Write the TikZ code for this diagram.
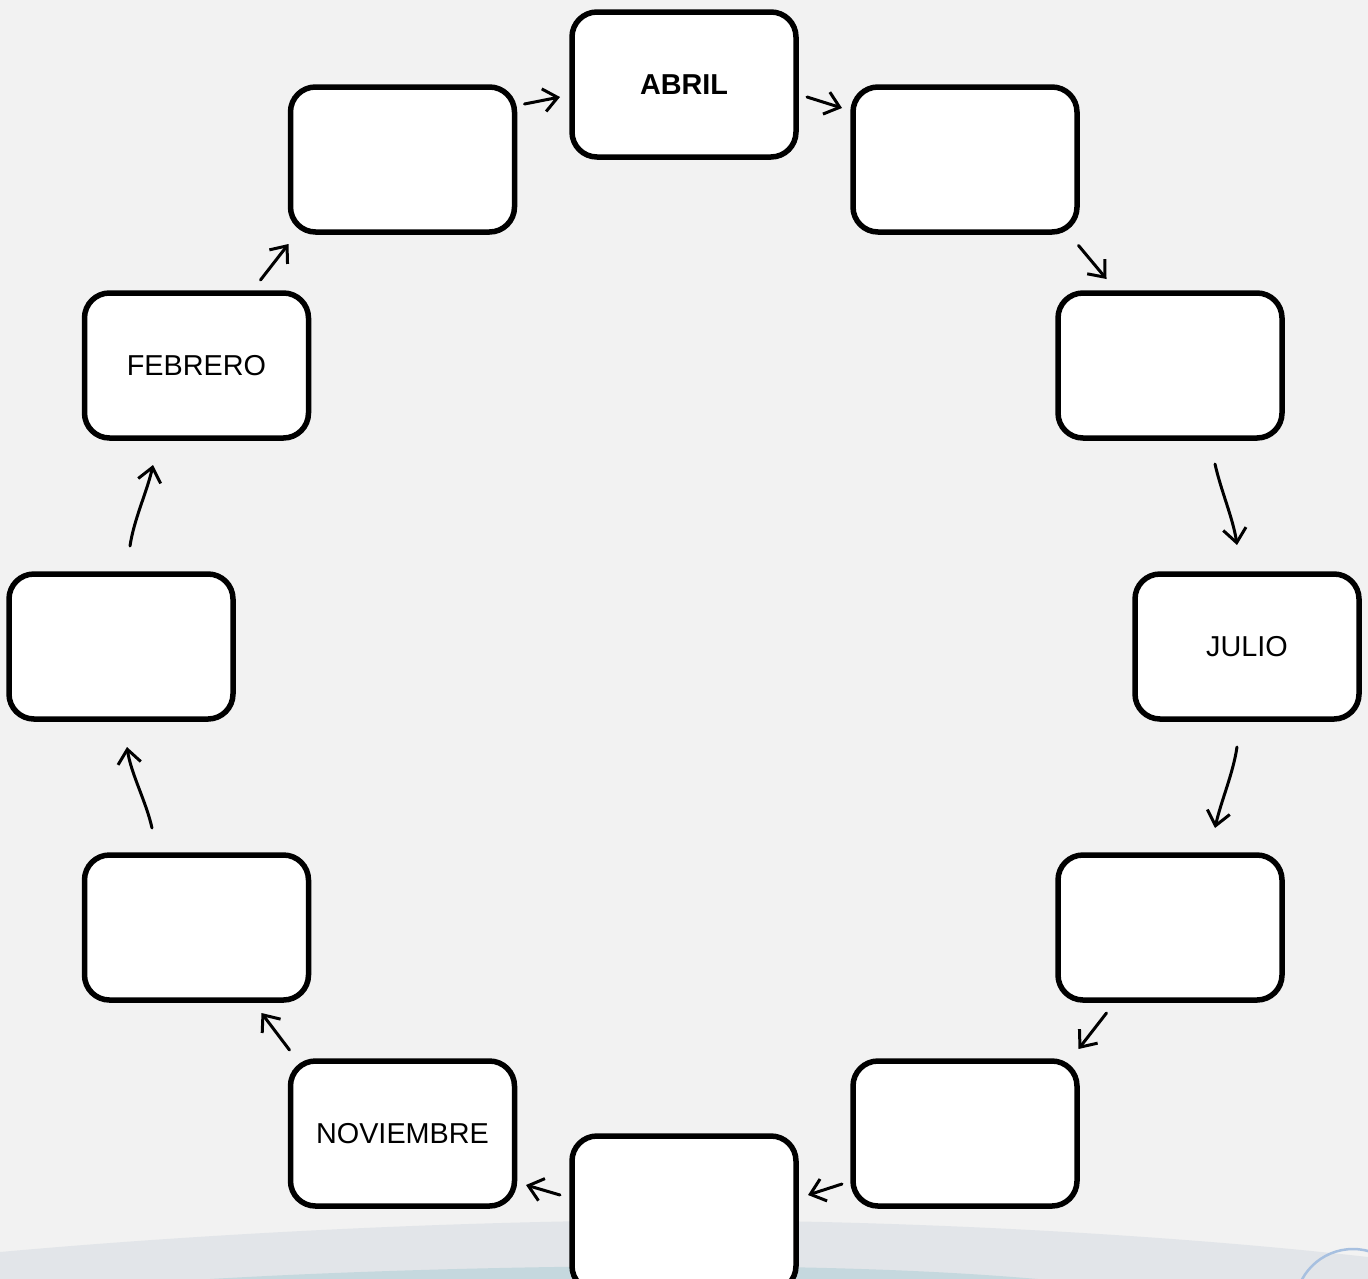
\documentclass[tikz,border=0pt]{standalone}
\usepackage{fontspec}
\setmainfont{Liberation Sans}
\usetikzlibrary{arrows.meta}
\definecolor{bgc}{HTML}{F2F2F2}
\definecolor{bandA}{HTML}{E2E5E9}
\definecolor{bandB}{HTML}{C5D8DE}
\definecolor{circc}{HTML}{A7C0E0}
\tikzset{
  monthbox/.style={draw=black, line width=5.5pt, rounded corners=25pt, fill=white,
    minimum width=224pt, minimum height=145pt, inner sep=0pt, outer sep=0pt,
    font=\fontsize{28.8}{34}\selectfont},
  arr/.style={line width=3pt, line cap=round, -{Straight Barb[length=14pt,width=23pt,line width=3pt]}}
}
\begin{document}
\begin{tikzpicture}[x=1pt,y=-1pt]
\useasboundingbox (0,0) rectangle (1368,1278);
\begin{scope}
\clip (0,0) rectangle (1368,1278);
\fill[bgc] (0,0) rectangle (1368,1278);
\fill[bandA] (0,1252) .. controls (200,1234) and (450,1221) .. (680,1220)
  .. controls (950,1221) and (1200,1238) .. (1368,1257) -- (1368,1300) -- (0,1300) -- cycle;
\fill[bandB] (0,1295) .. controls (200,1275) and (450,1267) .. (650,1266)
  .. controls (850,1266) and (980,1272) .. (1100,1285) -- (1100,1300) -- (0,1300) -- cycle;
\draw[circc, line width=2.5pt] (1353,1307) circle (58);
\end{scope}

\node[monthbox] (abril) at (684,84.5) {\textbf{ABRIL}};
\node[monthbox] (tl) at (402.5,159.5) {};
\node[monthbox] (tr) at (965,159.5) {};
\node[monthbox] (feb) at (196.5,365.5) {FEBRERO};
\node[monthbox] (ru) at (1170,365.5) {};
\node[monthbox] (lm) at (121,646.5) {};
\node[monthbox] (julio) at (1247,646.5) {JULIO};
\node[monthbox] (ll) at (196.5,927.5) {};
\node[monthbox] (rl) at (1170,927.5) {};
\node[monthbox] (nov) at (402.5,1133.5) {NOVIEMBRE};
\node[monthbox] (rb) at (965,1133.5) {};
\node[monthbox, minimum height=155pt] (bot) at (684,1213.5) {};

\draw[arr] ([shift={(10,-55.5)}]tl.east) -- ([shift={(-12,12.5)}]abril.west);
\draw[arr] ([shift={(11,12.5)}]abril.east) -- ([shift={(-11,-51.5)}]tr.west);
\draw[arr] ([shift={(1.5,13.5)}]tr.south east) -- ([shift={(48.5,-14)}]ru.north west);
\draw[arr] ([shift={(45,26)}]ru.south) .. controls +(6,27) and +(-4,-27) .. ([shift={(-10,-29)}]julio.north);
\draw[arr] ([shift={(-10,28)}]julio.south) .. controls +(-4,27) and +(6,-27) .. ([shift={(45,-27)}]rl.north);
\draw[arr] ([shift={(48.5,13)}]rl.south west) -- ([shift={(1.5,-12)}]rb.north east);
\draw[arr] ([shift={(-11,50.5)}]rb.west) -- ([shift={(12,-18.5)}]bot.east);
\draw[arr] ([shift={(-12,-18.5)}]bot.west) -- ([shift={(11.5,51.5)}]nov.east);
\draw[arr] ([shift={(-1,-11)}]nov.north west) -- ([shift={(-47,13)}]ll.south east);
\draw[arr] ([shift={(-44.5,-27)}]ll.north) .. controls +(-6,-27) and +(4,27) .. ([shift={(6,28)}]lm.south);
\draw[arr] ([shift={(9,-28)}]lm.north) .. controls +(4,-27) and +(-6,27) .. ([shift={(-43.5,27)}]feb.south);
\draw[arr] ([shift={(-48,-13)}]feb.north east) -- ([shift={(-2,12)}]tl.south west);
\end{tikzpicture}
\end{document}
